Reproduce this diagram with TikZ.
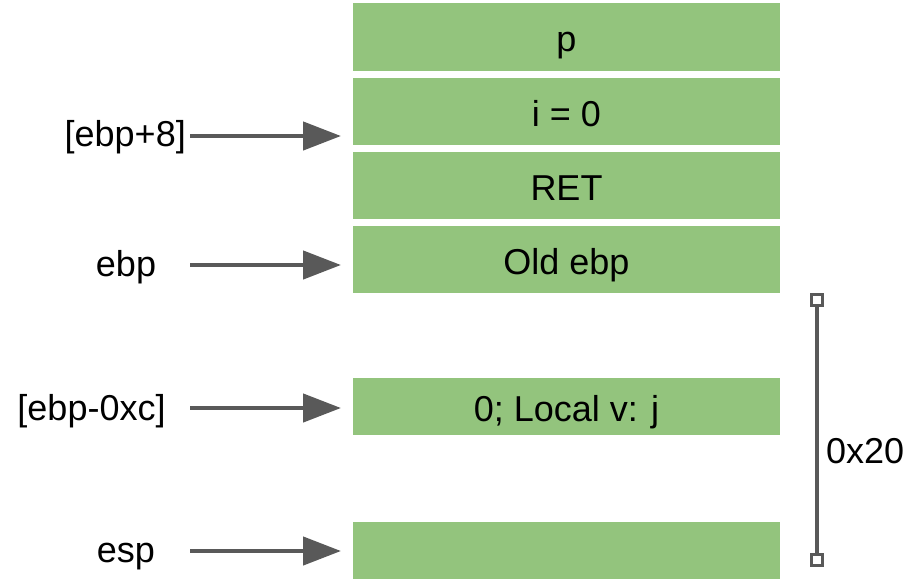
\documentclass[tikz,border=0pt]{standalone}
\usepackage{fontspec}
\setmainfont{Liberation Sans}
\usetikzlibrary{arrows.meta}
\definecolor{boxgreen}{HTML}{93C47D}
\definecolor{arrowgray}{HTML}{595959}
\begin{document}
\begin{tikzpicture}[x=1pt,y=-1pt,
  cell/.style={fill=boxgreen,draw=none,minimum width=427pt,inner sep=0pt,
    text height=29pt,text depth=0pt,
    font=\fontsize{36}{40}\selectfont,text=black},
  lbl/.style={inner sep=0pt,text height=29pt,text depth=0pt,
    font=\fontsize{36}{40}\selectfont,text=black},
  ptr/.style={draw=arrowgray,line width=4.5pt,
    -{Triangle[length=38pt,width=28pt]}},
  endbox/.style={draw=arrowgray,fill=white,line width=3pt,minimum size=11pt,inner sep=0pt}]
\useasboundingbox (0,0) rectangle (910,579);
% stack cells
\node[cell,minimum height=68pt] (p)   at (566.5,37) {p};
\node[cell,minimum height=67pt] (i)   at (566.5,111.5) {i = 0};
\node[cell,minimum height=67pt] (ret) at (566.5,185.5) {RET};
\node[cell,minimum height=67pt] (old) at (566.5,259.5) {Old ebp};
\node[cell,minimum height=57pt] (loc) at (566.5,406.5) {0; Local v: j};
\node[cell,minimum height=57pt] (sp)  at (566.5,550.5) {};
% labels
\node[lbl,anchor=east] (l8) at (186,132) {[ebp+8]};
\node[lbl] (lebp) at (126,262) {ebp};
\node[lbl] (lc) at (91.5,406) {[ebp-0xc]};
\node[lbl] (lesp) at (126,548) {esp};
% arrow endpoints
\coordinate (a1s) at (190,136); \coordinate (a1e) at (341,136);
\coordinate (a2s) at (190,265); \coordinate (a2e) at (341,265);
\coordinate (a3s) at (190,408); \coordinate (a3e) at (341,408);
\coordinate (a4s) at (190,551); \coordinate (a4e) at (341,551);
\draw[ptr] (a1s) -- (a1e);
\draw[ptr] (a2s) -- (a2e);
\draw[ptr] (a3s) -- (a3e);
\draw[ptr] (a4s) -- (a4e);
% size bracket
\node[endbox] (bt) at (817,300) {};
\node[endbox] (bb) at (817,560) {};
\draw[draw=arrowgray,line width=4pt] (bt) -- (bb);
\node[lbl,anchor=west] (sz) at (826,449) {0x20};
\end{tikzpicture}
\end{document}
